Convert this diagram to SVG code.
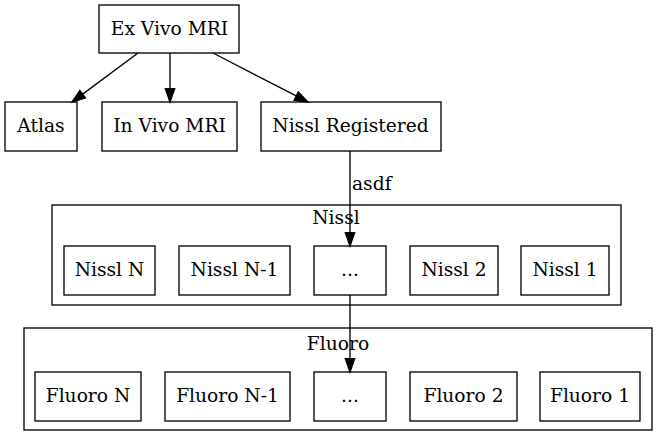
<svg xmlns="http://www.w3.org/2000/svg" width="668" height="447" viewBox="0 0 668 447">
<style>
rect{fill:#fff;stroke:#000;stroke-width:1.33}
text{font-family:"DejaVu Serif",serif;font-size:18.67px;fill:#000;text-anchor:middle}
.e{stroke:#000;stroke-width:1.33;fill:none}
.a{fill:#000;stroke:#000;stroke-width:1.33}
</style>
<rect x="0" y="0" width="668" height="447" style="stroke:none"/>
<g id="cluster_nissl"><rect x="52" y="205" width="569" height="100"/><text x="336" y="224">Nissl</text></g>
<g id="cluster_fluoro"><rect x="24" y="328" width="628" height="102"/><text x="338" y="350">Fluoro</text></g>
<g id="exvivo"><rect x="99" y="5" width="140" height="48"/><text x="169.5" y="34.5">Ex Vivo MRI</text></g>
<g id="atlas"><rect x="5" y="102" width="72" height="49"/><text x="41" y="132">Atlas</text></g>
<g id="invivo"><rect x="102" y="102" width="135" height="49"/><text x="169.5" y="132">In Vivo MRI</text></g>
<g id="nisslreg"><rect x="261" y="102" width="180" height="49"/><text x="350.5" y="132">Nissl Registered</text></g>
<g id="nisslN"><rect x="64" y="246" width="91" height="49"/><text x="109.5" y="276">Nissl N</text></g>
<g id="nisslN1"><rect x="179" y="246" width="111" height="49"/><text x="234.5" y="276">Nissl N-1</text></g>
<g id="nisslDots"><rect x="314" y="246" width="72" height="49"/><text x="350" y="276">...</text></g>
<g id="nissl2"><rect x="410" y="246" width="88" height="49"/><text x="454" y="276">Nissl 2</text></g>
<g id="nissl1"><rect x="521" y="246" width="88" height="49"/><text x="565" y="276">Nissl 1</text></g>
<g id="fluoroN"><rect x="35" y="372" width="106" height="49"/><text x="88" y="402">Fluoro N</text></g>
<g id="fluoroN1"><rect x="165" y="372" width="125" height="49"/><text x="227.5" y="402">Fluoro N-1</text></g>
<g id="fluoroDots"><rect x="314" y="372" width="72" height="49"/><text x="350" y="402">...</text></g>
<g id="fluoro2"><rect x="410" y="372" width="107" height="49"/><text x="463.5" y="402">Fluoro 2</text></g>
<g id="fluoro1"><rect x="540" y="372" width="100" height="49"/><text x="590" y="402">Fluoro 1</text></g>
<g id="edges">
<path class="e" d="M138,53 L82.7,94.1"/><polygon class="a" points="72,102 85.5,97.9 79.9,90.4"/>
<path class="e" d="M170,53 L170,88.7"/><polygon class="a" points="170,102 165.3,88.7 174.7,88.7"/>
<path class="e" d="M213,53 L296.2,95.9"/><polygon class="a" points="308,102 294.1,100.1 298.3,91.8"/>
<path class="e" d="M350,151 L350,232.7"/><polygon class="a" points="350,246 345.3,232.7 354.7,232.7"/>
<text x="352" y="190" style="text-anchor:start">asdf</text>
<path class="e" d="M350,295 L350,358.7"/><polygon class="a" points="350,372 345.3,358.7 354.7,358.7"/>
</g>
</svg>
